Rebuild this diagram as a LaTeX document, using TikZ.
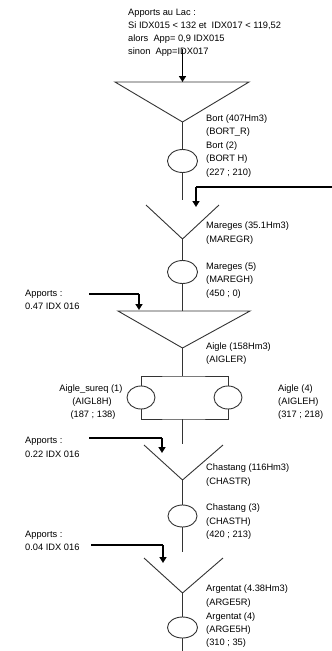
\documentclass[tikz,border=0pt]{standalone}
\usepackage{fontspec}
\setmainfont{Liberation Sans}
\usetikzlibrary{arrows.meta,shapes.geometric}

\begin{document}
\begin{tikzpicture}[x=1pt,y=-1pt,
  txt/.style={inner sep=0pt,font=\fontsize{9.3}{11}\selectfont,text height=6.6pt,text depth=0pt},
  lbl/.style={txt,anchor=west},
  clbl/.style={txt,anchor=center},
  link/.style={line width=0.9pt,black!80},
  feed/.style={line width=1.6pt,-{Triangle[length=6pt,width=7pt]}},
  side/.style={line width=1.1pt},
  plant/.style={ellipse,draw,line width=0.9pt,black!80,inner sep=0pt,minimum width=30pt,minimum height=23pt},
  splant/.style={plant,minimum width=28pt}]
\useasboundingbox (0,0) rectangle (332,651);

% lake inflow rule
\node[lbl] (t1) at (128,12) {Apports au Lac :};
\node[lbl] (t2) at (128,25) {Si IDX015 < 132 et \ IDX017 < 119,52};
\node[lbl] (t3) at (128,38) {alors \ App= 0,9 IDX015};
\node[lbl] (t4) at (128,51) {sinon \ App=IDX017};
\coordinate (inTop) at (182.5,49);

% Bort reservoir and plant
\coordinate (bortL) at (115,82);
\coordinate (bortR) at (249,82);
\coordinate (bortA) at (182.5,122);
\coordinate (bortT) at (182.5,82);
\draw[link] (bortL) -- (bortR) -- (bortA) -- cycle;
\draw[feed] (inTop) -- (bortT);
\node[plant] (bortH) at (182.5,161) {};
\draw[link] (bortA) -- (bortH.north);
\coordinate (bortOut) at (182.5,200);
\draw[link] (bortH.south) -- (bortOut);
\node[lbl] at (206,118) {Bort (407Hm3)};
\node[lbl] at (206,131.5) {(BORT\_R)};
\node[lbl] at (206,145) {Bort (2)};
\node[lbl] at (206,158.5) {(BORT H)};
\node[lbl] at (206,172) {(227 ; 210)};

% inflow from the right
\coordinate (rIn) at (332,187);
\coordinate (rBend) at (196,187);
\coordinate (rTip) at (196,207);
\draw[side] (rIn) -- (rBend);
\draw[feed] (rBend) -- (rTip);

% Mareges
\coordinate (marL) at (146,205);
\coordinate (marR) at (219,205);
\coordinate (marA) at (182.5,239);
\draw[link] (marL) -- (marA) -- (marR);
\node[lbl] at (206,225) {Mareges (35.1Hm3)};
\node[lbl] at (206,239) {(MAREGR)};
\node[plant] (marH) at (182.5,272) {};
\draw[link] (marA) -- (marH.north);
\node[lbl] at (206,266) {Mareges (5)};
\node[lbl] at (206,279) {(MAREGH)};
\node[lbl] at (206,293) {(450 ; 0)};

% Aigle reservoir
\coordinate (aigL) at (118,311);
\coordinate (aigR) at (250,311);
\coordinate (aigA) at (182.5,348);
\coordinate (aigT) at (182.5,311);
\draw[link] (aigL) -- (aigR) -- (aigA) -- cycle;
\draw[link] (marH.south) -- (aigT);
\node[lbl] (ap1) at (25,293) {Apports :};
\node[lbl] at (25,306) {0.47 IDX 016};
\coordinate (ap1s) at (89,294);
\coordinate (ap1b) at (139,294);
\coordinate (ap1t) at (139,310);
\draw[side] (ap1s) -- (ap1b);
\draw[feed] (ap1b) -- (ap1t);
\node[lbl] at (206,346) {Aigle (158Hm3)};
\node[lbl] at (206,359) {(AIGLER)};

% Aigle plants in parallel
\coordinate (boxT) at (182.5,376);
\coordinate (boxB) at (182.5,419);
\node[splant] (aigH1) at (141,397.5) {};
\node[splant] (aigH2) at (228,397.5) {};
\draw[link] (aigA) -- (boxT);
\draw[link] (aigH1.north) |- (boxT) -| (aigH2.north);
\draw[link] (aigH1.south) |- (boxB) -| (aigH2.south);
\node[clbl] at (91,388) {Aigle\_sureq (1)};
\node[clbl] at (92,401) {(AIGL8H)};
\node[clbl] at (93,414) {(187 ; 138)};
\node[lbl] at (278,388) {Aigle (4)};
\node[lbl] at (278,401) {(AIGLEH)};
\node[lbl] at (278,414) {(317 ; 218)};
\coordinate (aigOut) at (182.5,444);
\draw[link] (boxB) -- (aigOut);

% Chastang
\node[lbl] at (25,440) {Apports :};
\node[lbl] at (25,454) {0.22 IDX 016};
\coordinate (ap2s) at (89,438);
\coordinate (ap2b) at (162,438);
\coordinate (ap2t) at (162,453);
\draw[side] (ap2s) -- (ap2b);
\draw[feed] (ap2b) -- (ap2t);
\coordinate (chaL) at (144,445);
\coordinate (chaR) at (223,445);
\coordinate (chaA) at (182.5,480);
\draw[link] (chaL) -- (chaA) -- (chaR);
\node[lbl] at (206,467) {Chastang (116Hm3)};
\node[lbl] at (206,481) {(CHASTR)};
\node[plant,minimum width=29pt,minimum height=22pt] (chaH) at (182.5,516) {};
\draw[link] (chaA) -- (chaH.north);
\node[lbl] at (206,507) {Chastang (3)};
\node[lbl] at (206,521) {(CHASTH)};
\node[lbl] at (206,534) {(420 ; 213)};
\coordinate (chaOut) at (182.5,552);
\draw[link] (chaH.south) -- (chaOut);

% Argentat
\node[lbl] at (25,534) {Apports :};
\node[lbl] at (25,547) {0.04 IDX 016};
\coordinate (ap3s) at (91,545);
\coordinate (ap3b) at (163,545);
\coordinate (ap3t) at (163,563);
\draw[side] (ap3s) -- (ap3b);
\draw[feed] (ap3b) -- (ap3t);
\coordinate (argL) at (144,558);
\coordinate (argR) at (223,558);
\coordinate (argA) at (182.5,593);
\draw[link] (argL) -- (argA) -- (argR);
\node[lbl] at (206,588) {Argentat (4.38Hm3)};
\node[lbl] at (206,602) {(ARGE5R)};
\node[lbl] at (206,616) {Argentat (4)};
\node[lbl] at (206,629) {(ARGE5H)};
\node[lbl] at (206,642) {(310 ; 35)};
\node[plant,minimum height=21pt] (argH) at (182.5,627.5) {};
\draw[link] (argA) -- (argH.north);
\coordinate (argOut) at (182.5,651);
\draw[link] (argH.south) -- (argOut);
\end{tikzpicture}
\end{document}
